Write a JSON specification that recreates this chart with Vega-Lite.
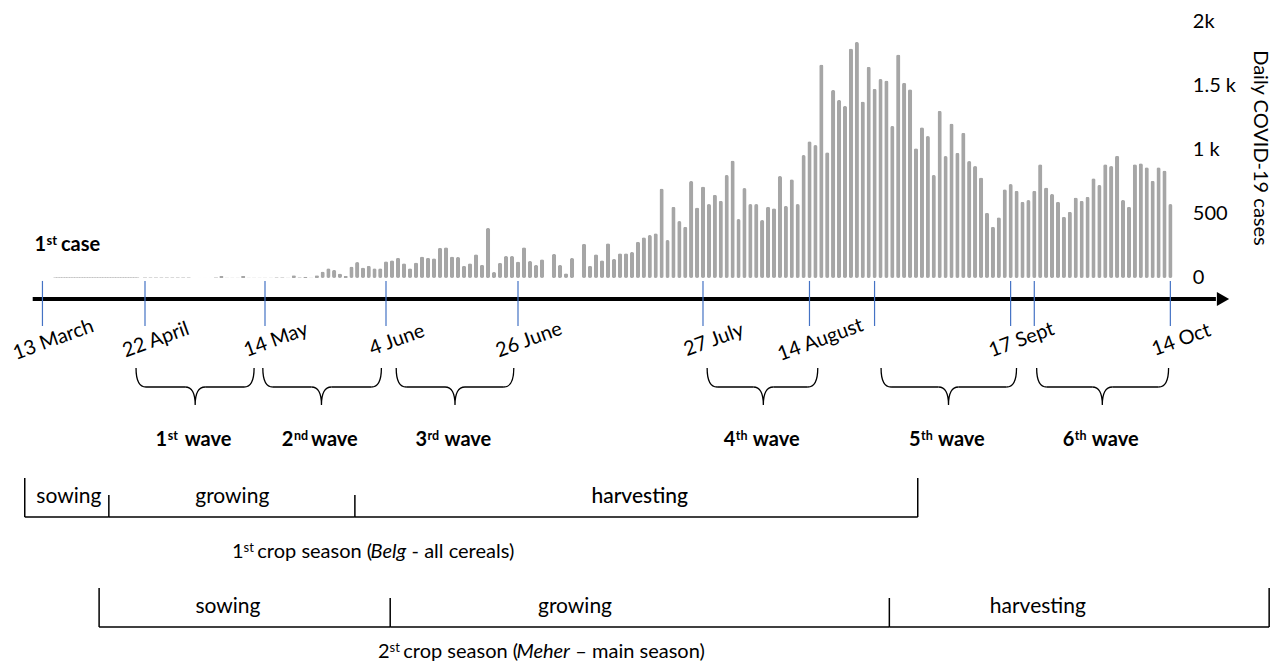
{
  "$schema": "https://vega.github.io/schema/vega-lite/v6.json",
  "width": 1279,
  "height": 666,
  "padding": 0,
  "autosize": {"type": "none"},
  "background": "#ffffff",
  "config": {"view": {"stroke": null}, "text": {"font": "Lato", "color": "#000000"}},
  "datasets": {
    "cases": [
      {"day":5,"cases":6},{"day":6,"cases":6},{"day":7,"cases":6},{"day":8,"cases":6},{"day":9,"cases":6},{"day":10,"cases":6},{"day":11,"cases":6},{"day":12,"cases":6},{"day":13,"cases":6},{"day":14,"cases":6},{"day":15,"cases":6},{"day":16,"cases":6},{"day":17,"cases":6},{"day":18,"cases":6},{"day":19,"cases":6},{"day":20,"cases":6},{"day":21,"cases":6},{"day":22,"cases":6},{"day":23,"cases":6},{"day":24,"cases":6},{"day":25,"cases":6},{"day":26,"cases":6},{"day":27,"cases":6},{"day":28,"cases":6},{"day":29,"cases":6},{"day":30,"cases":6},{"day":31,"cases":6},{"day":32,"cases":6},{"day":33,"cases":6},{"day":34,"cases":6},{"day":35,"cases":6},{"day":36,"cases":6},{"day":37,"cases":6},
      {"day":40,"cases":6},{"day":41,"cases":6},{"day":42,"cases":6},{"day":43,"cases":6},{"day":44,"cases":6},{"day":45,"cases":6},{"day":46,"cases":6},{"day":47,"cases":6},{"day":48,"cases":6},
      {"day":50,"cases":2},{"day":51,"cases":2},{"day":52,"cases":2},{"day":53,"cases":6},{"day":54,"cases":16},{"day":55,"cases":3},{"day":56,"cases":3},{"day":57,"cases":3},{"day":58,"cases":16},{"day":59,"cases":4},{"day":60,"cases":3},{"day":61,"cases":3},{"day":62,"cases":4},
      {"day":63,"cases":4},{"day":64,"cases":6},{"day":65,"cases":5},{"day":66,"cases":3},{"day":67,"cases":21},{"day":68,"cases":5},{"day":69,"cases":10},{"day":70,"cases":3},{"day":71,"cases":21},{"day":72,"cases":50},{"day":73,"cases":76},{"day":74,"cases":63},{"day":75,"cases":36},{"day":76,"cases":16},{"day":77,"cases":89},{"day":78,"cases":125},{"day":79,"cases":83},{"day":80,"cases":96},{"day":81,"cases":76},{"day":82,"cases":76},
      {"day":83,"cases":130},{"day":84,"cases":138},{"day":85,"cases":159},{"day":86,"cases":115},{"day":87,"cases":76},{"day":88,"cases":122},{"day":89,"cases":167},{"day":90,"cases":159},{"day":91,"cases":154},{"day":92,"cases":237},{"day":93,"cases":240},{"day":94,"cases":167},{"day":95,"cases":164},{"day":96,"cases":96},{"day":97,"cases":115},{"day":98,"cases":185},{"day":99,"cases":104},{"day":100,"cases":391},{"day":101,"cases":47},{"day":102,"cases":120},{"day":103,"cases":172},{"day":104,"cases":172},{"day":105,"cases":128},{"day":106,"cases":240},{"day":107,"cases":133},{"day":108,"cases":102},{"day":109,"cases":146},{"day":111,"cases":188},{"day":112,"cases":102},{"day":113,"cases":37},{"day":114,"cases":156},{"day":116,"cases":268},{"day":117,"cases":96},{"day":118,"cases":185},{"day":119,"cases":138},{"day":120,"cases":271},{"day":121,"cases":149},{"day":122,"cases":193},{"day":123,"cases":193},{"day":124,"cases":203},
      {"day":125,"cases":283},{"day":126,"cases":318},{"day":127,"cases":336},{"day":128,"cases":349},{"day":129,"cases":700},{"day":130,"cases":297},{"day":131,"cases":557},{"day":132,"cases":445},{"day":133,"cases":401},{"day":134,"cases":758},{"day":135,"cases":550},{"day":136,"cases":714},{"day":137,"cases":578},{"day":138,"cases":651},{"day":139,"cases":604},{"day":140,"cases":805},{"day":141,"cases":917},{"day":142,"cases":461},{"day":143,"cases":703},{"day":144,"cases":578},{"day":145,"cases":578},{"day":146,"cases":453},{"day":147,"cases":557},{"day":148,"cases":544},{"day":149,"cases":797},{"day":150,"cases":563},{"day":151,"cases":771},{"day":152,"cases":578},{"day":153,"cases":961},{"day":154,"cases":1068},{"day":155,"cases":1039},{"day":156,"cases":1667},{"day":157,"cases":982},{"day":158,"cases":1469},{"day":159,"cases":1391},{"day":160,"cases":1344},{"day":161,"cases":1792},{"day":162,"cases":1844},{"day":163,"cases":1378},{"day":164,"cases":1651},{"day":165,"cases":1478},
      {"day":166,"cases":1555},{"day":167,"cases":1542},{"day":168,"cases":1188},{"day":169,"cases":1747},{"day":170,"cases":1526},{"day":171,"cases":1474},{"day":172,"cases":1013},{"day":173,"cases":1177},{"day":174,"cases":1109},{"day":175,"cases":805},{"day":176,"cases":1307},{"day":177,"cases":953},{"day":178,"cases":1208},{"day":179,"cases":979},{"day":180,"cases":1135},{"day":181,"cases":914},{"day":182,"cases":875},{"day":183,"cases":786},{"day":184,"cases":510},{"day":185,"cases":401},{"day":186,"cases":474},{"day":187,"cases":693},{"day":188,"cases":734},{"day":189,"cases":682},{"day":190,"cases":596},{"day":191,"cases":609},{"day":192,"cases":682},{"day":193,"cases":888},{"day":194,"cases":708},{"day":195,"cases":656},{"day":196,"cases":596},{"day":197,"cases":479},{"day":198,"cases":518},{"day":199,"cases":628},{"day":200,"cases":604},{"day":201,"cases":635},{"day":202,"cases":779},{"day":203,"cases":727},{"day":204,"cases":888},{"day":205,"cases":875},{"day":206,"cases":956},{"day":207,"cases":609},{"day":208,"cases":557},{"day":209,"cases":888},{"day":210,"cases":896},{"day":211,"cases":865},{"day":212,"cases":760},{"day":213,"cases":865},{"day":214,"cases":839},{"day":215,"cases":578}
    ],
    "ticks": [
      {"day": 0, "label": "13 March"},
      {"day": 40, "label": "22 April"},
      {"day": 62, "label": "14 May"},
      {"day": 83, "label": "4 June"},
      {"day": 105, "label": "26 June"},
      {"day": 136, "label": "27 July"},
      {"day": 154, "label": "14 August"},
      {"day": 165, "label": ""},
      {"day": 188, "label": "17 Sept"},
      {"day": 192, "label": ""},
      {"day": 215, "label": "14 Oct"}
    ],
    "yticks": [
      {"v": 0, "t": "0"},
      {"v": 500, "t": "500"},
      {"v": 1000, "t": "1 k"},
      {"v": 1500, "t": "1.5 k"},
      {"v": 2000, "t": "2k"}
    ],
    "notes": [
      {"title": "Daily COVID-19 cases", "n": "1", "sup": "st", "word": "case", "day": 0, "from": -3.8, "to": 222.7, "tip": 223.9}
    ],
    "waves": [
      {"n": "1", "sup": "st", "word": "wave", "start": 36.5, "end": 60.0, "mid": 49.2},
      {"n": "2", "sup": "nd", "word": "wave", "start": 61.6, "end": 82.2, "mid": 71.8},
      {"n": "3", "sup": "rd", "word": "wave", "start": 84.7, "end": 104.3, "mid": 94.5},
      {"n": "4", "sup": "th", "word": "wave", "start": 136.7, "end": 155.4, "mid": 146.2},
      {"n": "5", "sup": "th", "word": "wave", "start": 166.1, "end": 189.0, "mid": 177.5},
      {"n": "6", "sup": "th", "word": "wave", "start": 192.4, "end": 214.7, "mid": 203.5}
    ],
    "phases": [
      {"season": 1, "phase": "sowing", "start": -6.9, "end": 25.9, "label_day": 10.3},
      {"season": 1, "phase": "growing", "start": 25.9, "end": 77.6, "label_day": 56.0},
      {"season": 1, "phase": "harvesting", "start": 77.6, "end": 172.3, "label_day": 125.3},
      {"season": 2, "phase": "sowing", "start": 22.1, "end": 83.7, "label_day": 55.2},
      {"season": 2, "phase": "growing", "start": 83.7, "end": 167.5, "label_day": 114.5},
      {"season": 2, "phase": "harvesting", "start": 167.5, "end": 231.7, "label_day": 192.6}
    ],
    "captions": [
      {"season": 1, "n": "1", "sup": "st", "pre": "crop season (", "it": "Belg", "post": "- all cereals)", "start": 55.95},
      {"season": 2, "n": "2", "sup": "st", "pre": "crop season (", "it": "Meher", "post": "– main season)", "start": 81.6}
    ]
  },
  "layer": [
    {
      "data": {"name": "cases"},
      "mark": {"type": "bar", "width": 4.2, "cornerRadius": 2, "color": "#a6a6a6"},
      "encoding": {
        "x": {"field": "day", "type": "quantitative", "axis": null,
              "scale": {"type": "linear", "domain": [0, 40, 62, 83, 124, 215], "range": [40, 145, 265, 386, 632, 1176], "nice": false, "zero": false}},
        "y": {"field": "cases", "type": "quantitative", "axis": null,
              "scale": {"domain": [-3031.25, 2171.875], "nice": false, "zero": false}}
      }
    },
    {
      "data": {"name": "notes"},
      "mark": {"type": "rule", "strokeWidth": 4, "color": "#000000"},
      "encoding": {"x": {"field": "from", "type": "quantitative"}, "x2": {"field": "to"}, "y": {"datum": -164}}
    },
    {
      "data": {"name": "notes"},
      "mark": {"type": "point", "shape": "triangle-right", "size": 200, "filled": true, "color": "#000000", "opacity": 1},
      "encoding": {"x": {"field": "tip", "type": "quantitative"}, "y": {"datum": -164}}
    },
    {
      "data": {"name": "ticks"},
      "mark": {"type": "rule", "strokeWidth": 1.2, "color": "#4472c4"},
      "encoding": {"x": {"field": "day", "type": "quantitative"}, "y": {"datum": -23}, "y2": {"datum": -375}}
    },
    {
      "data": {"name": "ticks"},
      "transform": [{"filter": "datum.label != ''"}],
      "mark": {"type": "text", "fontSize": 20, "angle": -20, "align": "center", "baseline": "middle", "xOffset": 11},
      "encoding": {"x": {"field": "day", "type": "quantitative"}, "y": {"datum": -484.4}, "text": {"field": "label"}}
    },
    {
      "data": {"name": "yticks"},
      "mark": {"type": "text", "fontSize": 20, "align": "left", "baseline": "middle"},
      "encoding": {"x": {"datum": 218.8}, "y": {"field": "v", "type": "quantitative"}, "text": {"field": "t"}}
    },
    {
      "data": {"name": "notes"},
      "mark": {"type": "text", "fontSize": 20, "angle": 90, "align": "center", "baseline": "middle"},
      "encoding": {"x": {"datum": 230.2}, "y": {"datum": 1016}, "text": {"field": "title"}}
    },
    {
      "data": {"name": "notes"},
      "mark": {"type": "text", "fontSize": 20, "fontWeight": "bold", "align": "left", "baseline": "middle", "xOffset": -8},
      "encoding": {"x": {"field": "day", "type": "quantitative"}, "y": {"datum": 258}, "text": {"field": "n"}}
    },
    {
      "data": {"name": "notes"},
      "mark": {"type": "text", "fontSize": 13, "fontWeight": "bold", "align": "left", "baseline": "middle", "xOffset": 4, "yOffset": -4},
      "encoding": {"x": {"field": "day", "type": "quantitative"}, "y": {"datum": 258}, "text": {"field": "sup"}}
    },
    {
      "data": {"name": "notes"},
      "mark": {"type": "text", "fontSize": 20, "fontWeight": "bold", "align": "left", "baseline": "middle", "xOffset": 18.5},
      "encoding": {"x": {"field": "day", "type": "quantitative"}, "y": {"datum": 258}, "text": {"field": "word"}}
    },
    {
      "data": {"name": "waves"},
      "mark": {"type": "rule", "strokeWidth": 1.3, "color": "#000000", "xOffset": 10, "x2Offset": -10},
      "encoding": {"x": {"field": "start", "type": "quantitative"}, "x2": {"field": "mid"}, "y": {"datum": -851.56}}
    },
    {
      "data": {"name": "waves"},
      "mark": {"type": "rule", "strokeWidth": 1.3, "color": "#000000", "xOffset": 10, "x2Offset": -10},
      "encoding": {"x": {"field": "mid", "type": "quantitative"}, "x2": {"field": "end"}, "y": {"datum": -851.56}}
    },
    {
      "data": {"name": "waves"},
      "mark": {"type": "point", "shape": "M 0 -3.8 Q 0 0 2 0", "size": 100, "filled": false, "color": "#000000", "strokeWidth": 1.3, "opacity": 1},
      "encoding": {"x": {"field": "start", "type": "quantitative"}, "y": {"datum": -851.56}}
    },
    {
      "data": {"name": "waves"},
      "mark": {"type": "point", "shape": "M 0 -3.8 Q 0 0 -2 0", "size": 100, "filled": false, "color": "#000000", "strokeWidth": 1.3, "opacity": 1},
      "encoding": {"x": {"field": "end", "type": "quantitative"}, "y": {"datum": -851.56}}
    },
    {
      "data": {"name": "waves"},
      "mark": {"type": "point", "shape": "M -2 0 Q 0 0 0 3.6 Q 0 0 2 0", "size": 100, "filled": false, "color": "#000000", "strokeWidth": 1.3, "opacity": 1},
      "encoding": {"x": {"field": "mid", "type": "quantitative"}, "y": {"datum": -851.56}}
    },
    {
      "data": {"name": "waves"},
      "mark": {"type": "text", "fontSize": 20, "fontWeight": "bold", "align": "right", "baseline": "middle", "xOffset": -28},
      "encoding": {"x": {"field": "mid", "type": "quantitative"}, "y": {"datum": -1265.6}, "text": {"field": "n"}}
    },
    {
      "data": {"name": "waves"},
      "mark": {"type": "text", "fontSize": 12.5, "fontWeight": "bold", "align": "left", "baseline": "middle", "xOffset": -27.5, "yOffset": -4},
      "encoding": {"x": {"field": "mid", "type": "quantitative"}, "y": {"datum": -1265.6}, "text": {"field": "sup"}}
    },
    {
      "data": {"name": "waves"},
      "mark": {"type": "text", "fontSize": 20, "fontWeight": "bold", "align": "left", "baseline": "middle", "xOffset": -10.5},
      "encoding": {"x": {"field": "mid", "type": "quantitative"}, "y": {"datum": -1265.6}, "text": {"field": "word"}}
    },
    {
      "data": {"name": "phases"},
      "transform": [{"filter": "datum.season == 1"}],
      "mark": {"type": "rule", "strokeWidth": 1.5, "color": "#000000"},
      "encoding": {"x": {"field": "start", "type": "quantitative"}, "x2": {"field": "end"}, "y": {"datum": -1867.2}}
    },
    {
      "data": {"name": "phases"},
      "transform": [{"filter": "datum.season == 1 && datum.phase == 'sowing'"}],
      "mark": {"type": "rule", "strokeWidth": 1.5, "color": "#000000"},
      "encoding": {"x": {"field": "start", "type": "quantitative"}, "y": {"datum": -1562.5}, "y2": {"datum": -1867.2}}
    },
    {
      "data": {"name": "phases"},
      "transform": [{"filter": "datum.season == 1 && datum.phase == 'harvesting'"}],
      "mark": {"type": "rule", "strokeWidth": 1.5, "color": "#000000"},
      "encoding": {"x": {"field": "end", "type": "quantitative"}, "y": {"datum": -1562.5}, "y2": {"datum": -1867.2}}
    },
    {
      "data": {"name": "phases"},
      "transform": [{"filter": "datum.season == 1 && datum.phase != 'sowing'"}],
      "mark": {"type": "rule", "strokeWidth": 1.5, "color": "#000000"},
      "encoding": {"x": {"field": "start", "type": "quantitative"}, "y": {"datum": -1695.3}, "y2": {"datum": -1867.2}}
    },
    {
      "data": {"name": "phases"},
      "transform": [{"filter": "datum.season == 1 && datum.phase != 'harvesting'"}],
      "mark": {"type": "text", "fontSize": 21, "align": "center", "baseline": "middle"},
      "encoding": {"x": {"field": "label_day", "type": "quantitative"}, "y": {"datum": -1710.9}, "text": {"field": "phase"}}
    },
    {
      "data": {"name": "phases"},
      "transform": [{"filter": "datum.season == 1 && datum.phase == 'harvesting'"}],
      "mark": {"type": "text", "fontSize": 21, "fontWeight": 500, "align": "center", "baseline": "middle"},
      "encoding": {"x": {"field": "label_day", "type": "quantitative"}, "y": {"datum": -1710.9}, "text": {"field": "phase"}}
    },
    {
      "data": {"name": "phases"},
      "transform": [{"filter": "datum.season == 2"}],
      "mark": {"type": "rule", "strokeWidth": 1.5, "color": "#000000"},
      "encoding": {"x": {"field": "start", "type": "quantitative"}, "x2": {"field": "end"}, "y": {"datum": -2726.6}}
    },
    {
      "data": {"name": "phases"},
      "transform": [{"filter": "datum.season == 2 && datum.phase == 'sowing'"}],
      "mark": {"type": "rule", "strokeWidth": 1.5, "color": "#000000"},
      "encoding": {"x": {"field": "start", "type": "quantitative"}, "y": {"datum": -2421.9}, "y2": {"datum": -2726.6}}
    },
    {
      "data": {"name": "phases"},
      "transform": [{"filter": "datum.season == 2 && datum.phase == 'harvesting'"}],
      "mark": {"type": "rule", "strokeWidth": 1.5, "color": "#000000"},
      "encoding": {"x": {"field": "end", "type": "quantitative"}, "y": {"datum": -2421.9}, "y2": {"datum": -2726.6}}
    },
    {
      "data": {"name": "phases"},
      "transform": [{"filter": "datum.season == 2 && datum.phase != 'sowing'"}],
      "mark": {"type": "rule", "strokeWidth": 1.5, "color": "#000000"},
      "encoding": {"x": {"field": "start", "type": "quantitative"}, "y": {"datum": -2500}, "y2": {"datum": -2726.6}}
    },
    {
      "data": {"name": "phases"},
      "transform": [{"filter": "datum.season == 2"}],
      "mark": {"type": "text", "fontSize": 21, "align": "center", "baseline": "middle"},
      "encoding": {"x": {"field": "label_day", "type": "quantitative"}, "y": {"datum": -2570.3}, "text": {"field": "phase"}}
    },
    {
      "data": {"name": "captions"},
      "transform": [{"filter": "datum.season == 1"}],
      "mark": {"type": "text", "fontSize": 20, "align": "left", "baseline": "middle"},
      "encoding": {"x": {"field": "start", "type": "quantitative"}, "y": {"datum": -2140.6}, "text": {"field": "n"}}
    },
    {
      "data": {"name": "captions"},
      "transform": [{"filter": "datum.season == 1"}],
      "mark": {"type": "text", "fontSize": 13, "align": "left", "baseline": "middle", "xOffset": 11.6, "yOffset": -4},
      "encoding": {"x": {"field": "start", "type": "quantitative"}, "y": {"datum": -2140.6}, "text": {"field": "sup"}}
    },
    {
      "data": {"name": "captions"},
      "transform": [{"filter": "datum.season == 1"}],
      "mark": {"type": "text", "fontSize": 20, "align": "left", "baseline": "middle", "xOffset": 25.3},
      "encoding": {"x": {"field": "start", "type": "quantitative"}, "y": {"datum": -2140.6}, "text": {"field": "pre"}}
    },
    {
      "data": {"name": "captions"},
      "transform": [{"filter": "datum.season == 1"}],
      "mark": {"type": "text", "fontSize": 20, "fontStyle": "italic", "align": "left", "baseline": "middle", "xOffset": 138.5},
      "encoding": {"x": {"field": "start", "type": "quantitative"}, "y": {"datum": -2140.6}, "text": {"field": "it"}}
    },
    {
      "data": {"name": "captions"},
      "transform": [{"filter": "datum.season == 1"}],
      "mark": {"type": "text", "fontSize": 20, "align": "left", "baseline": "middle", "xOffset": 179.6},
      "encoding": {"x": {"field": "start", "type": "quantitative"}, "y": {"datum": -2140.6}, "text": {"field": "post"}}
    },
    {
      "data": {"name": "captions"},
      "transform": [{"filter": "datum.season == 2"}],
      "mark": {"type": "text", "fontSize": 20, "align": "left", "baseline": "middle"},
      "encoding": {"x": {"field": "start", "type": "quantitative"}, "y": {"datum": -2921.9}, "text": {"field": "n"}}
    },
    {
      "data": {"name": "captions"},
      "transform": [{"filter": "datum.season == 2"}],
      "mark": {"type": "text", "fontSize": 13, "align": "left", "baseline": "middle", "xOffset": 11.6, "yOffset": -4},
      "encoding": {"x": {"field": "start", "type": "quantitative"}, "y": {"datum": -2921.9}, "text": {"field": "sup"}}
    },
    {
      "data": {"name": "captions"},
      "transform": [{"filter": "datum.season == 2"}],
      "mark": {"type": "text", "fontSize": 20, "align": "left", "baseline": "middle", "xOffset": 25.3},
      "encoding": {"x": {"field": "start", "type": "quantitative"}, "y": {"datum": -2921.9}, "text": {"field": "pre"}}
    },
    {
      "data": {"name": "captions"},
      "transform": [{"filter": "datum.season == 2"}],
      "mark": {"type": "text", "fontSize": 20, "fontStyle": "italic", "align": "left", "baseline": "middle", "xOffset": 138.5},
      "encoding": {"x": {"field": "start", "type": "quantitative"}, "y": {"datum": -2921.9}, "text": {"field": "it"}}
    },
    {
      "data": {"name": "captions"},
      "transform": [{"filter": "datum.season == 2"}],
      "mark": {"type": "text", "fontSize": 20, "align": "left", "baseline": "middle", "xOffset": 197.4},
      "encoding": {"x": {"field": "start", "type": "quantitative"}, "y": {"datum": -2921.9}, "text": {"field": "post"}}
    }
  ]
}
